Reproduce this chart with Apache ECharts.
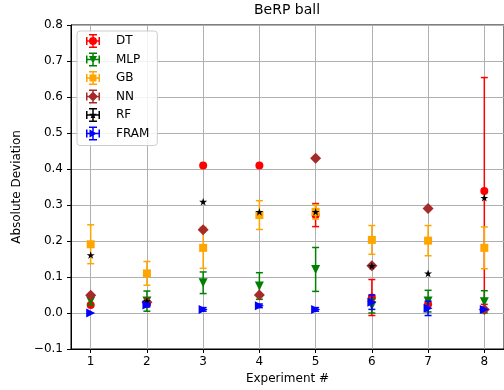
<!DOCTYPE html>
<html>
<head>
<meta charset="utf-8">
<script src="https://cdn.jsdelivr.net/npm/echarts@6/dist/echarts.min.js"></script>
<style>
  html, body { margin: 0; padding: 0; background: #fff; }
  #chart { width: 504px; height: 390px; }
</style>
</head>
<body>
<div id="chart"></div>
<script>
// data
const experiments = [1, 2, 3, 4, 5, 6, 7, 8];

const dtMean   = [0.022, 0.025, 0.410, 0.410, 0.272, 0.043, 0.024, 0.339];
const dtErr    = [0, 0, 0, 0, 0.032, 0.050, 0, 0.315];
const mlpMean  = [0.033, 0.033, 0.084, 0.075, 0.121, 0.020, 0.033, 0.031];
const mlpErr   = [0.010, 0.028, 0.030, 0.037, 0.061, 0.020, 0.030, 0.031];
const gbMean   = [0.191, 0.110, 0.181, 0.272, 0.281, 0.203, 0.201, 0.181];
const gbErr    = [0.054, 0.033, 0.057, 0.040, 0.020, 0.040, 0.042, 0.058];
const nnMean   = [0.049, 0.030, 0.231, 0.050, 0.430, 0.131, 0.290, 0.010];
const nnErr    = [0, 0, 0, 0, 0, 0, 0, 0];
const rfMean   = [0.161, 0.033, 0.309, 0.281, 0.281, 0.131, 0.110, 0.320];
const rfErr    = [0, 0, 0, 0, 0, 0, 0, 0];
const framMean = [0.000, 0.022, 0.010, 0.020, 0.010, 0.030, 0.013, 0.010];
const framErr  = [0, 0.005, 0.005, 0.005, 0.005, 0.020, 0.020, 0];

const yTicks = [-0.1, 0.0, 0.1, 0.2, 0.3, 0.4, 0.5, 0.6, 0.7, 0.8];

// marker shapes
const STAR = 'path://M10,0 L12.245,6.91 L19.51,6.91 L13.63,11.18 L15.88,18.09 L10,13.82 L4.12,18.09 L6.37,11.18 L0.49,6.91 L7.755,6.91 Z';
const TRI_DOWN = 'path://M0,0 L10,0 L5,10 Z';
const TRI_RIGHT = 'path://M0,0 L10,5 L0,10 Z';

// legend icons: errorbar cross + marker
const CROSS = 'M12.5,0 H15.5 V28 H12.5 Z M6,0 H22 V3 H6 Z M6,25 H22 V28 H6 Z ' +
              'M0,12.5 H28 V15.5 H0 Z M0,6 H3 V22 H0 Z M25,6 H28 V22 H25 Z ';
const ICONS = {
    circle:   'M6,14 A8,8 0 0,1 22,14 A8,8 0 0,1 6,14 Z',
    triDown:  'M6,7 H22 L14,22 Z',
    square:   'M7,7 H21 V21 H7 Z',
    diamond:  'M14,4 L24,14 L14,24 L4,14 Z',
    star:     'M14,6 L15.8,11.53 L21.61,11.53 L16.9,14.94 L18.7,20.47 L14,17.06 L9.3,20.47 L11.1,14.94 L6.39,11.53 L12.2,11.53 Z',
    triRight: 'M7,6 L22,14 L7,22 Z'
};

const models = [
    { name: 'DT',   mean: dtMean,   err: dtErr,   color: '#ff0000', symbol: 'circle',  size: 8,        icon: ICONS.circle },
    { name: 'MLP',  mean: mlpMean,  err: mlpErr,  color: '#008000', symbol: TRI_DOWN,  size: 9,        icon: ICONS.triDown },
    { name: 'GB',   mean: gbMean,   err: gbErr,   color: '#ffa500', symbol: 'rect',    size: 8,        icon: ICONS.square },
    { name: 'NN',   mean: nnMean,   err: nnErr,   color: '#a52a2a', symbol: 'diamond', size: 11,       icon: ICONS.diamond },
    { name: 'RF',   mean: rfMean,   err: rfErr,   color: '#000000', symbol: STAR,      size: [8, 7.6], icon: ICONS.star },
    { name: 'FRAM', mean: framMean, err: framErr, color: '#0000ff', symbol: TRI_RIGHT, size: 9,        icon: ICONS.triRight }
];

function errorBar(color) {
    return function (params, api) {
        const x = api.value(0), y = api.value(1), e = api.value(2);
        if (!e) return;
        const top = api.coord([x, y + e]);
        const bot = api.coord([x, y - e]);
        const cap = 3.5;
        const st = { stroke: color, lineWidth: 1.5 };
        return {
            type: 'group',
            children: [
                { type: 'line', shape: { x1: top[0], y1: top[1], x2: bot[0], y2: bot[1] }, style: st },
                { type: 'line', shape: { x1: top[0] - cap, y1: top[1], x2: top[0] + cap, y2: top[1] }, style: st },
                { type: 'line', shape: { x1: bot[0] - cap, y1: bot[1], x2: bot[0] + cap, y2: bot[1] }, style: st }
            ]
        };
    };
}

const series = [];
models.forEach((m, k) => {
    series.push({
        name: m.name,
        type: 'scatter',
        z: 3 + 2 * k,
        symbol: m.symbol,
        symbolSize: m.size,
        itemStyle: { color: m.color, opacity: 1 },
        emphasis: { disabled: true },
        data: experiments.map((x, i) => [x, m.mean[i]])
    });
    series.push({
        name: m.name,
        type: 'custom',
        z: 2 + 2 * k,
        itemStyle: { color: m.color },
        renderItem: errorBar(m.color),
        data: experiments.map((x, i) => [x, m.mean[i], m.err[i]])
    });
});

const chart = echarts.init(document.getElementById('chart'), null, { renderer: 'canvas' });
chart.setOption({
    animation: false,
    textStyle: { fontFamily: 'DejaVu Sans' },
    title: {
        text: 'BeRP ball',
        left: 287,
        top: 3,
        padding: 0,
        textAlign: 'center',
        textStyle: { fontSize: 14, fontWeight: 'normal', color: '#000', fontFamily: 'DejaVu Sans' }
    },
    legend: {
        orient: 'vertical',
        left: 77,
        top: 31,
        padding: [3, 8, 5, 9],
        itemWidth: 14,
        itemHeight: 14,
        itemGap: 4.5,
        backgroundColor: 'rgba(255,255,255,0.85)',
        borderColor: '#cccccc',
        borderWidth: 1,
        borderRadius: 3,
        selectedMode: false,
        textStyle: { fontSize: 12, color: '#000', fontFamily: 'DejaVu Sans', padding: [0, 0, 0, 11] },
        data: models.map(m => ({
            name: m.name,
            icon: 'path://' + CROSS + m.icon,
            itemStyle: { color: m.color }
        }))
    },
    grid: {
        left: 71, right: 0, top: 25, bottom: 41,
        show: true, borderColor: '#000', borderWidth: 1,
        containLabel: false
    },
    xAxis: {
        type: 'value',
        min: 0.65,
        max: 8.35,
        splitNumber: 8,
        name: 'Experiment #',
        nameLocation: 'middle',
        nameGap: 23,
        nameTextStyle: { fontSize: 12, color: '#000' },
        axisLine: { onZero: false, lineStyle: { color: '#000', width: 1 } },
        axisTick: { length: 4, lineStyle: { color: '#000' } },
        axisLabel: {
            fontSize: 12, color: '#000', margin: 7,
            showMinLabel: false, showMaxLabel: false,
            formatter: v => String(Math.round(v))
        },
        splitLine: { show: true, lineStyle: { color: '#b0b0b0', width: 1 } }
    },
    yAxis: {
        type: 'value',
        min: yTicks[0],
        max: yTicks[yTicks.length - 1],
        interval: 0.1,
        name: 'Absolute Deviation',
        nameLocation: 'middle',
        nameGap: 44,
        nameTextStyle: { fontSize: 12, color: '#000' },
        axisLine: { show: true, onZero: false, lineStyle: { color: '#000', width: 1 } },
        axisTick: { show: true, length: 4, lineStyle: { color: '#000' } },
        axisLabel: {
            fontSize: 12, color: '#000', margin: 8,
            formatter: v => {
                const r = Math.round(v * 10) / 10;
                return (r < 0 ? '\u2212' : '') + Math.abs(r).toFixed(1);
            }
        },
        splitLine: { show: true, lineStyle: { color: '#b0b0b0', width: 1 } }
    },
    series: series
});
</script>
</body>
</html>
